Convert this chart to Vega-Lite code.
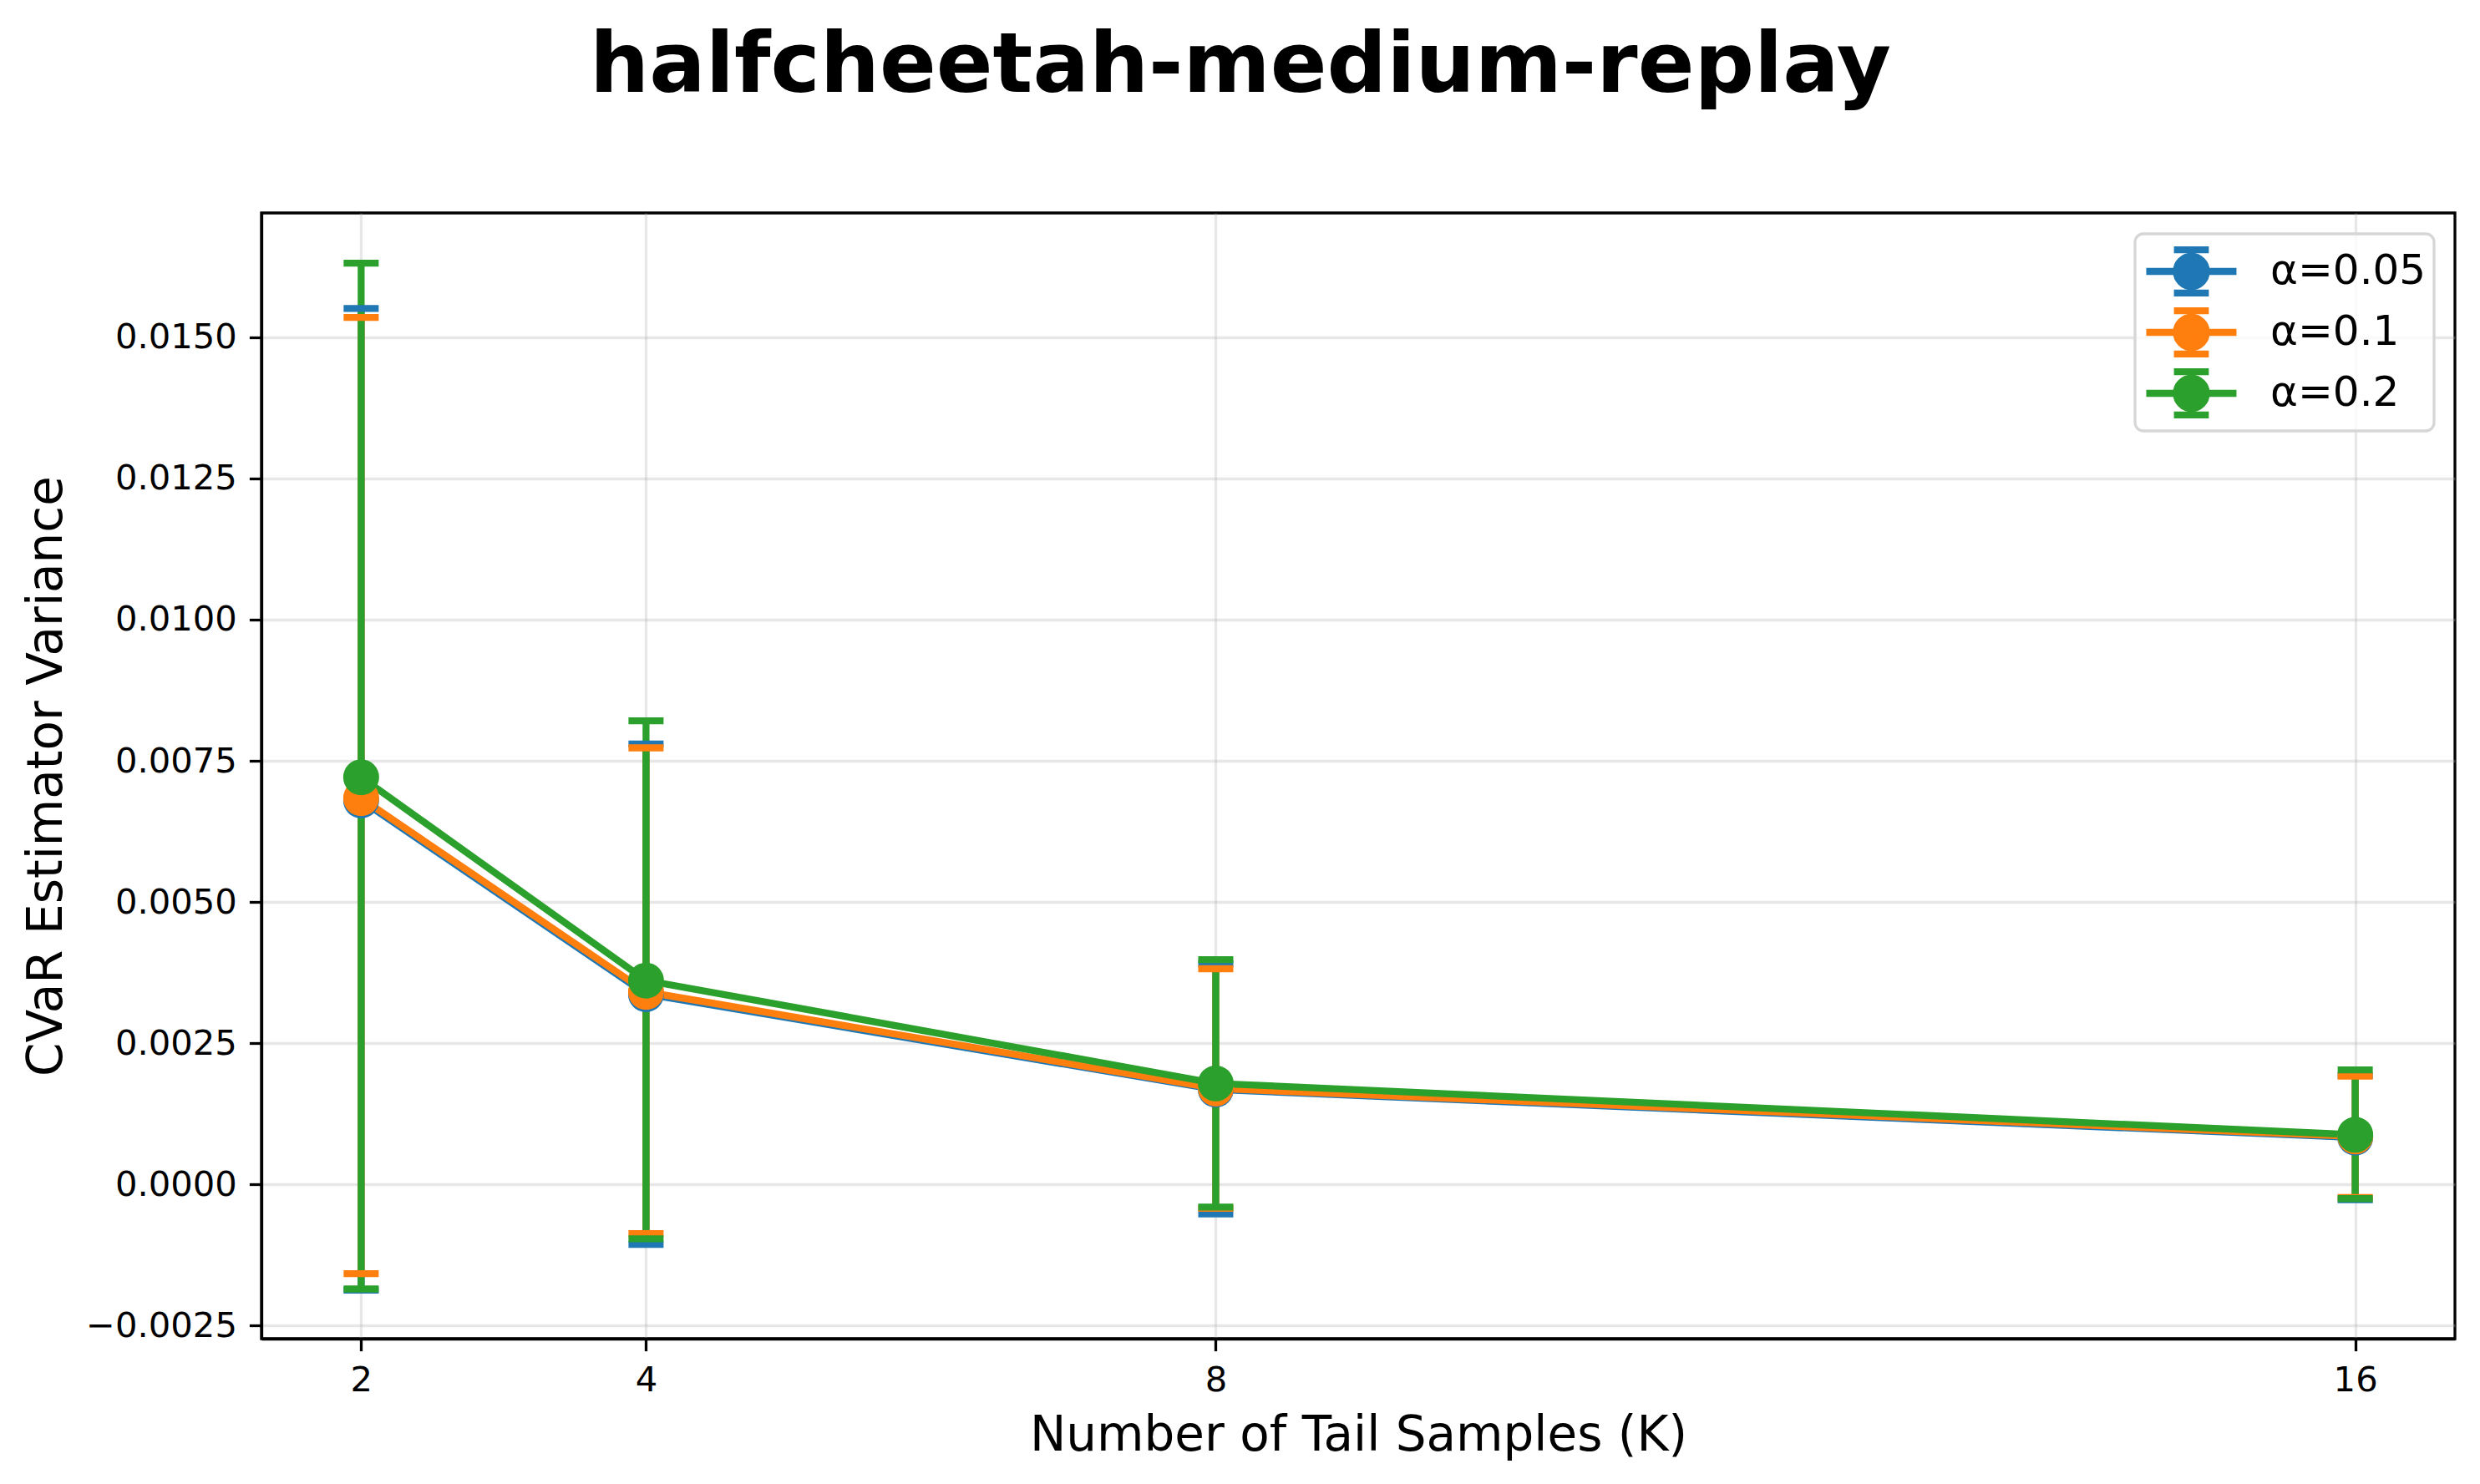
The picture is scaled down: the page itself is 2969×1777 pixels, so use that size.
{
  "$schema": "https://vega.github.io/schema/vega-lite/v6.json",
  "width": 2626,
  "height": 1348,
  "autosize": {"type": "none"},
  "padding": {"left": 313, "top": 255, "right": 30, "bottom": 174},
  "background": "white",
  "title": {
    "text": "halfcheetah-medium-replay",
    "font": "DejaVu Sans",
    "fontSize": 100,
    "fontWeight": "bold",
    "color": "black",
    "anchor": "middle",
    "frame": "group",
    "baseline": "alphabetic",
    "offset": 45,
    "dx": -141
  },
  "config": {
    "view": {"stroke": "black", "strokeWidth": 3.3},
    "font": "DejaVu Sans",
    "axis": {
      "domainColor": "black",
      "domainWidth": 3.3,
      "tickColor": "black",
      "tickWidth": 3.3,
      "tickSize": 14.6,
      "labelFont": "DejaVu Sans",
      "labelFontSize": 41.7,
      "labelColor": "black",
      "labelPadding": 15,
      "labelLimit": 1000,
      "titleFont": "DejaVu Sans",
      "titleFontSize": 58,
      "titleFontWeight": "normal",
      "titleColor": "black",
      "grid": true,
      "gridColor": "#b0b0b0",
      "gridOpacity": 0.3,
      "gridWidth": 3.3
    }
  },
  "data": {
    "values": [
      {"K": 2, "alpha": "α=0.05", "mean": 0.0068, "lo": -0.00187, "hi": 0.01551},
      {"K": 4, "alpha": "α=0.05", "mean": 0.00337, "lo": -0.00106, "hi": 0.0078},
      {"K": 8, "alpha": "α=0.05", "mean": 0.00168, "lo": -0.00052, "hi": 0.00391},
      {"K": 16, "alpha": "α=0.05", "mean": 0.00083, "lo": -0.00027, "hi": 0.00193},
      {"K": 2, "alpha": "α=0.1", "mean": 0.00684, "lo": -0.00158, "hi": 0.01535},
      {"K": 4, "alpha": "α=0.1", "mean": 0.00341, "lo": -0.00087, "hi": 0.00773},
      {"K": 8, "alpha": "α=0.1", "mean": 0.0017, "lo": -0.00042, "hi": 0.00382},
      {"K": 16, "alpha": "α=0.1", "mean": 0.00085, "lo": -0.00023, "hi": 0.00192},
      {"K": 2, "alpha": "α=0.2", "mean": 0.00721, "lo": -0.00185, "hi": 0.01631},
      {"K": 4, "alpha": "α=0.2", "mean": 0.00361, "lo": -0.00096, "hi": 0.00821},
      {"K": 8, "alpha": "α=0.2", "mean": 0.00179, "lo": -0.0004, "hi": 0.00398},
      {"K": 16, "alpha": "α=0.2", "mean": 0.00088, "lo": -0.00025, "hi": 0.00203}
    ]
  },
  "encoding": {
    "x": {
      "field": "K",
      "type": "quantitative",
      "scale": {"domain": [1.3, 16.7], "nice": false, "zero": false},
      "axis": {"values": [2, 4, 8, 16], "format": "d", "title": "Number of Tail Samples (K)", "titlePadding": 16}
    },
    "color": {
      "field": "alpha",
      "type": "nominal",
      "scale": {"domain": ["α=0.05", "α=0.1", "α=0.2"], "range": ["#1f77b4", "#ff7f0e", "#2ca02c"]},
      "legend": {
        "title": null,
        "orient": "top-right",
        "offset": 25,
        "padding": 9,
        "rowPadding": 1,
        "clipHeight": 72,
        "fillColor": "rgba(255,255,255,0.8)",
        "strokeColor": "#d6d6d6",
        "cornerRadius": 10,
        "labelFont": "DejaVu Sans",
        "labelFontSize": 50,
        "labelColor": "black",
        "labelLimit": 1000,
        "labelOffset": 72,
        "symbolSize": 5184,
        "symbolStrokeWidth": 8.3,
        "symbolType": "M -1.001 0 L 1.999 0 M 0.499 -0.72 L 0.499 0.72 M -0.081 -0.72 L 1.079 -0.72 M -0.081 0.72 L 1.079 0.72 M 0.999 0 A 0.5 0.5 0 1 1 -0.001 0 A 0.5 0.5 0 1 1 0.999 0 Z",
        "encode": {
          "legend": {"update": {"strokeWidth": {"value": 3.3}}},
          "symbols": {
            "update": {
              "fill": {"scale": "color", "field": "value"},
              "stroke": {"scale": "color", "field": "value"},
              "strokeWidth": {"value": 8.3},
              "opacity": {"value": 1},
              "fillOpacity": {"value": 1},
              "strokeOpacity": {"value": 1}
            }
          }
        }
      }
    }
  },
  "layer": [
    {
      "mark": {"type": "rule", "strokeWidth": 8.3},
      "encoding": {
        "y": {"field": "lo", "type": "quantitative"},
        "y2": {"field": "hi"}
      }
    },
    {
      "mark": {"type": "tick", "orient": "horizontal", "size": 42, "thickness": 8.3, "opacity": 1},
      "encoding": {
        "y": {"field": "hi", "type": "quantitative"}
      }
    },
    {
      "mark": {"type": "tick", "orient": "horizontal", "size": 42, "thickness": 8.3, "opacity": 1},
      "encoding": {
        "y": {"field": "lo", "type": "quantitative"}
      }
    },
    {
      "mark": {"type": "line", "strokeWidth": 8.3},
      "encoding": {
        "y": {
          "field": "mean",
          "type": "quantitative",
          "scale": {"domain": [-0.00273, 0.0172], "nice": false, "zero": false},
          "axis": {
            "values": [-0.0025, 0, 0.0025, 0.005, 0.0075, 0.01, 0.0125, 0.015],
            "format": ".4f",
            "title": "CVaR Estimator Variance",
            "titlePadding": 28
          }
        }
      }
    },
    {
      "mark": {"type": "point", "filled": true, "opacity": 1, "size": 1850, "shape": "circle"},
      "encoding": {
        "y": {"field": "mean", "type": "quantitative"}
      }
    }
  ]
}
